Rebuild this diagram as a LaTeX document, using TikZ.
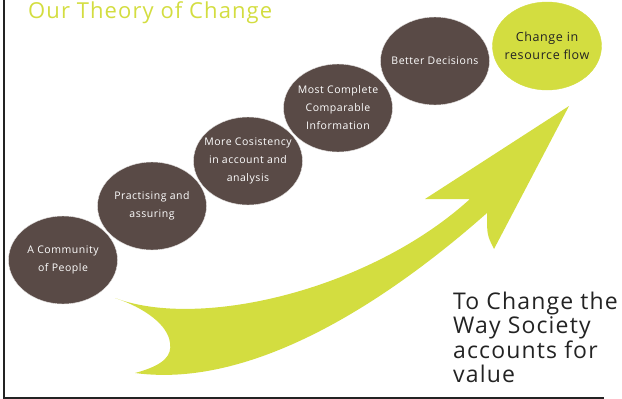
\documentclass[tikz,border=0pt]{standalone}
\usepackage{fontspec}
\setmainfont{Open Sans}[LetterSpace=5]
\usetikzlibrary{positioning,shapes.geometric}
\definecolor{bark}{RGB}{89,74,70}
\definecolor{lime}{RGB}{211,221,64}
\definecolor{ink}{RGB}{35,35,35}

\begin{document}
\begin{tikzpicture}[x=1pt,y=-1pt,
    stage/.style={ellipse, draw=white!85!bark, fill=bark, text=white, minimum width=109pt, minimum height=88pt, inner xsep=-8pt, inner ysep=0pt, align=center, font=\fontsize{10.5}{18}\selectfont},
    goal/.style={stage, fill=lime, draw=lime, text=ink, font=\fontsize{12.5}{18}\selectfont}]
    \useasboundingbox (0,0) rectangle (622,399);

    % frame
    \draw[line width=1.6pt, ink] (4,0) -- (4,398) -- (604,398);

    % title
    \node[anchor=base west, inner sep=0pt, text=lime, font=\fontsize{22}{22}\selectfont] (title) at (28,18) {Our Theory of Change};

    % big arrow
    \fill[lime] (115,298) .. controls (200,330) and (370,290) .. (470,199) -- (425,199) -- (569,106) -- (494,249)
        .. controls (487,235) .. (487,213) .. controls (400,290) and (260,390) .. (135,373)
        .. controls (165,365) and (172,355) .. (170,343) .. controls (168,325) and (145,308) .. (115,298) -- cycle;

    % steps
    \foreach \x/\y/\txt [count=\i] in {63/260/{A Community\\of People}, 152/206/{Practising and\\assuring}, 248/161/{More Cosistency\\in account and\\analysis}, 338/108/{Most Complete\\Comparable\\Information}, 435/61/{Better Decisions}} {
        \node[stage] (s\i) at (\x,\y) {\txt};
    }
    \node[goal] (s6) at (547,46) {Change in\\resource flow};

    % outcome
    \node[anchor=north west, inner sep=0pt, align=left, text=ink, font=\fontsize{23}{24.3}\selectfont] (aim) at (453,292) {To Change the\\Way Society\\accounts for\\value};
\end{tikzpicture}
\end{document}
